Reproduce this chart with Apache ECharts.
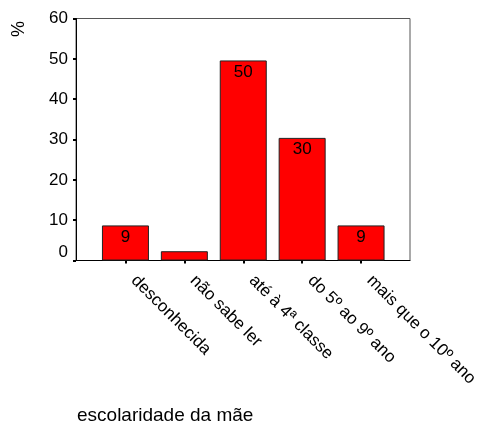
<!DOCTYPE html>
<html>
<head>
<meta charset="utf-8">
<script src="https://cdn.jsdelivr.net/npm/echarts@6/dist/echarts.min.js"></script>
<style>html,body{margin:0;padding:0;background:#fff;}#c{width:485px;height:428px;}</style>
</head>
<body>
<div id="c"></div>
<script>
const categories = ['desconhecida', 'não sabe ler', 'até à 4ª classe', 'do 5º ao 9º ano', 'mais que o 10º ano'];
const values = [8.7, 2.3, 49.6, 30.4, 8.7];
const barLabels = ['9', '', '50', '30', '9'];
const yTicks = [0, 10, 20, 30, 40, 50, 60];
const xTitle = 'escolaridade da mãe';
const yTitle = '%';

const FONT = '"Liberation Sans", Arial, sans-serif';
const chart = echarts.init(document.getElementById('c'), null, {renderer: 'canvas'});
const option = {
  animation: false,
  backgroundColor: '#fff',
  textStyle: {fontFamily: FONT},
  grid: [
    {left: 76, top: 18.5, width: 334, height: 242, show: true, borderColor: '#555', borderWidth: 1, backgroundColor: 'transparent'},
    {left: 96, top: 18.5, width: 294.5, height: 242}
  ],
  xAxis: [
    {gridIndex: 0, type: 'value', min: 0, max: 1, axisLine: {show: true, onZero: false, lineStyle: {color: '#000', width: 1}},
     axisTick: {show: false}, axisLabel: {show: false}, splitLine: {show: false}},
    {gridIndex: 1, type: 'category', data: categories, boundaryGap: true,
     axisLine: {show: false}, axisTick: {show: true, alignWithLabel: true, length: 3, lineStyle: {color: '#000', width: 2}},
     axisLabel: {rotate: -45, margin: 9, fontSize: 17, color: '#000', fontFamily: FONT, interval: 0, padding: [0, 0, 0, 12]}}
  ],
  yAxis: [
    {gridIndex: 0, type: 'value', min: yTicks[0], max: yTicks[yTicks.length - 1], interval: 10,
     axisLine: {show: true, lineStyle: {color: '#000', width: 1}},
     axisTick: {show: true, length: 3, lineStyle: {color: '#000', width: 2}},
     axisLabel: {fontSize: 17, color: '#000', margin: 8, fontFamily: FONT,
       formatter: v => v === 0 ? '{z|0}' : String(v),
       rich: {z: {fontSize: 17, color: '#000', fontFamily: FONT, padding: [0, 0, 17, 0]}}},
     splitLine: {show: false}},
    {gridIndex: 1, type: 'value', min: 0, max: 60, show: false, splitLine: {show: false}}
  ],
  series: [{
    type: 'bar', xAxisIndex: 1, yAxisIndex: 1,
    data: values, barWidth: 47,
    itemStyle: {color: '#ff0000', borderColor: '#222', borderWidth: 1},
    label: {show: true, position: 'insideTop', distance: 3, color: '#000', fontSize: 17, fontFamily: FONT,
      formatter: p => barLabels[p.dataIndex]}
  }],
  graphic: [
    {type: 'text', left: 77, top: 406, style: {text: xTitle, font: '19px ' + FONT, fill: '#000'}},
    {type: 'text', x: 19, y: 29, rotation: Math.PI / 2,
     style: {text: yTitle, font: '18px ' + FONT, fill: '#000', align: 'center', verticalAlign: 'middle'}}
  ]
};
chart.setOption(option);
</script>
</body>
</html>
